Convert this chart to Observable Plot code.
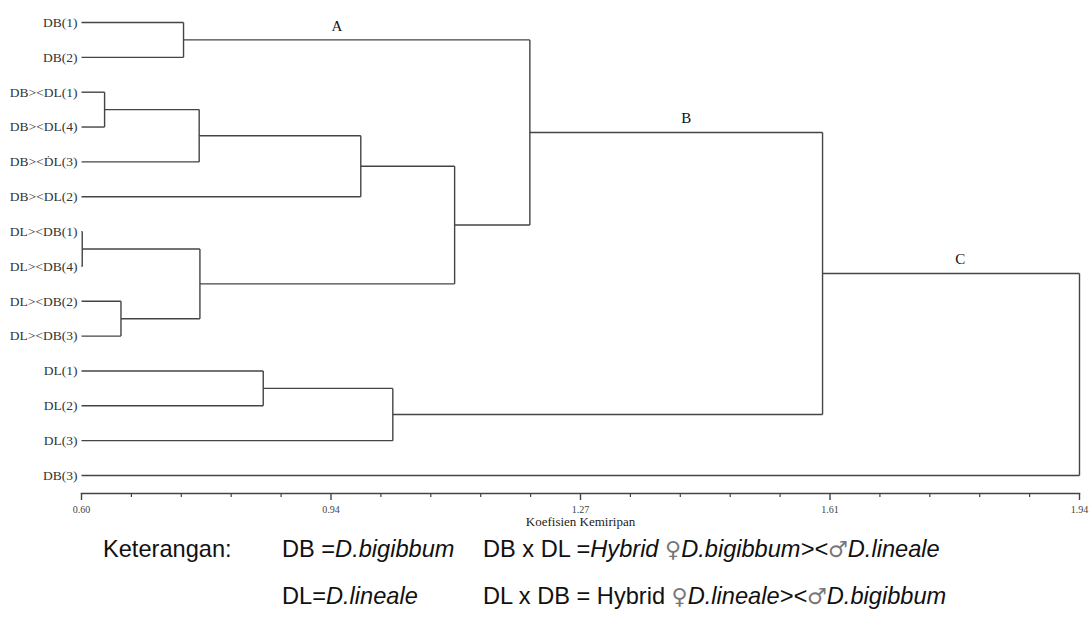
<!DOCTYPE html>
<html><head><meta charset="utf-8">
<script src="https://cdn.jsdelivr.net/npm/d3@7"></script>
<script src="https://cdn.jsdelivr.net/npm/@observablehq/plot@0.6"></script>
<style>
body{margin:0;background:#fff;width:1092px;height:619px;overflow:hidden;position:relative;font-family:"Liberation Sans",Arial,sans-serif;}
#chart{position:absolute;left:0;top:0;}
.leg{position:absolute;font-size:23.6px;line-height:23px;color:#111;white-space:pre;}
.leg i{font-style:italic}
.sym{font-family:"DejaVu Sans";font-size:22px;color:#777;font-style:normal;font-weight:normal;}
</style></head><body>
<div id="chart"></div>
<div class="leg" style="left:103px;top:538px">Keterangan:</div>
<div class="leg" style="left:282px;top:538px">DB =<i>D.bigibbum</i></div>
<div class="leg" style="left:483px;top:538px">DB x DL =<i>Hybrid <span class="sym">♀</span>D.bigibbum&gt;&lt;<span class="sym">♂</span>D.lineale</i></div>
<div class="leg" style="left:282px;top:585px">DL=<i>D.lineale</i></div>
<div class="leg" style="left:483px;top:585px">DL x DB = Hybrid <i><span class="sym">♀</span>D.lineale&gt;&lt;<span class="sym">♂</span>D.bigibbum</i></div>
<script>
// Leaves, top to bottom
const leaves = ["DB(1)", "DB(2)", "DB><DL(1)", "DB><DL(4)", "DB><ḊL(3)", "DB><DL(2)",
  "DL><DB(1)", "DL><DB(4)", "DL><DB(2)", "DL><DB(3)", "DL(1)", "DL(2)", "DL(3)", "DB(3)"];
const leafValue = 0.60;
// merges: [id, child a, child b, coefficient]
const merges = [
  ["m1", "DB(1)", "DB(2)", 0.737],
  ["m2", "DB><DL(1)", "DB><DL(4)", 0.631],
  ["m3", "m2", "DB><ḊL(3)", 0.758],
  ["m4", "m3", "DB><DL(2)", 0.975],
  ["m5", "DL><DB(1)", "DL><DB(4)", 0.601],
  ["m6", "DL><DB(2)", "DL><DB(3)", 0.653],
  ["m7", "m5", "m6", 0.759],
  ["m8", "m4", "m7", 1.101],
  ["m9", "m1", "m8", 1.202],
  ["m10", "DL(1)", "DL(2)", 0.844],
  ["m11", "m10", "DL(3)", 1.018],
  ["m12", "m9", "m11", 1.595],
  ["m13", "m12", "DB(3)", 1.94]
];
// cluster labels: name, node whose branch carries it, x position
const clusterNames = ["A", "B", "C"];
const clusterNodes = ["m1", "m9", "m12"];
const clusterX = [0.943, 1.412, 1.780];
// axis
const majorTicks = [0.60, 0.935, 1.27, 1.605, 1.94];
const tickLabels = ["0.60", "0.94", "1.27", "1.61", "1.94"];
const xLabel = "Koefisien Kemiripan";

const pos = {};
leaves.forEach((d, i) => pos[d] = {x: leafValue, y: i});
const segments = [];
for (const [id, a, b, h] of merges) {
  const pa = pos[a], pb = pos[b];
  segments.push({x1: pa.x, y1: pa.y, x2: h, y2: pa.y});
  segments.push({x1: pb.x, y1: pb.y, x2: h, y2: pb.y});
  segments.push({x1: h, y1: pa.y, x2: h, y2: pb.y});
  pos[id] = {x: h, y: (pa.y + pb.y) / 2};
}
const clusters = clusterNames.map((n, i) => ({name: n, x: clusterX[i], y: pos[clusterNodes[i]].y}));
const minorTicks = [];
for (let k = 0; k < majorTicks.length - 1; k++) {
  for (let j = 1; j < 5; j++) minorTicks.push(majorTicks[k] + (majorTicks[k + 1] - majorTicks[k]) * j / 5);
}

const chart = Plot.plot({
  width: 1092, height: 540,
  marginLeft: 81, marginRight: 13, marginTop: 22, marginBottom: 47,
  style: {fontFamily: "Liberation Serif", background: "#fff", overflow: "visible"},
  x: {domain: [0.6, 1.94], label: null},
  y: {domain: [0, leaves.length - 1], reverse: true, insetBottom: 18, axis: null, label: null},
  marks: [
    Plot.link(segments, {x1: "x1", y1: "y1", x2: "x2", y2: "y2", stroke: "#444", strokeWidth: 1.4}),
    Plot.text(leaves, {x: () => leafValue, y: (d, i) => i, text: d => d, textAnchor: "end", dx: -4,
      fontFamily: "Liberation Serif", fontSize: 13.5, fill: "#333"}),
    Plot.text(clusters, {x: "x", y: "y", text: "name", dy: -14, fontFamily: "Liberation Serif", fontSize: 15, fill: "#111"}),
    Plot.frame({anchor: "bottom", stroke: "#444", strokeWidth: 1.4}),
    Plot.axisX({ticks: minorTicks, tickSize: 4, tickFormat: () => "", stroke: "#444", strokeWidth: 1.2}),
    Plot.axisX({ticks: majorTicks, tickSize: 7, tickPadding: 5, stroke: "#444", strokeWidth: 1.4, fill: "#444",
      tickFormat: d => tickLabels[majorTicks.indexOf(d)], fontSize: 10, fontFamily: "Liberation Serif"}),
    Plot.text([xLabel], {frameAnchor: "bottom", dy: 32, fontFamily: "Liberation Serif", fontSize: 13, fill: "#222"})
  ]
});
document.getElementById("chart").appendChild(chart);
</script>
</body></html>
